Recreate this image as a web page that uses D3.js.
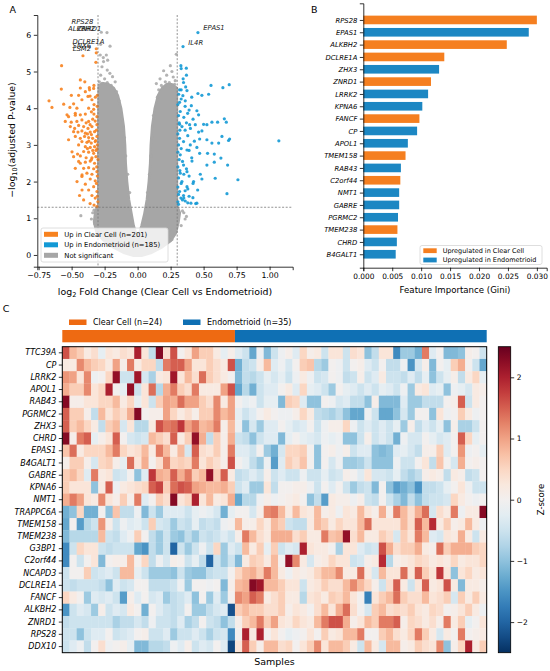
<!DOCTYPE html>
<html>
<head>
<meta charset="utf-8">
<title>Clear Cell vs Endometrioid</title>
<script src="https://cdn.jsdelivr.net/npm/d3@7"></script>
<style>
body { margin: 0; background: #fff; }
svg { font-family: "DejaVu Sans", sans-serif; }
</style>
</head>
<body>
<div id="chart"></div>
<script>
// ---- panel A : volcano ----
var ccPts = [[-0.313,5.62],[-0.414,5.43],[-0.316,5.25],[-0.576,5.16],[-0.313,5.51],
  [-0.434,4.77],[-0.40,4.72],[-0.331,4.62],[-0.366,4.56],[-0.434,4.55],[-0.578,4.52],[-0.364,4.5],[-0.333,4.54],
  [-0.396,4.45],[-0.447,4.35],[-0.376,4.32],[-0.502,4.35],[-0.36,4.33],[-0.422,4.23],[-0.346,4.23],[-0.671,4.2],
  [-0.56,4.11],[-0.485,4.12],[-0.649,4.02],[-0.513,4.02],[-0.46,4.0],[-0.371,4.0],[-0.333,3.97],[-0.306,4.05],
  [-0.535,3.82],[-0.523,3.77],[-0.472,3.86],[-0.434,3.82],[-0.396,3.84],[-0.331,3.84],[-0.308,3.77],[-0.472,3.81],
  [-0.548,3.64],[-0.503,3.62],[-0.46,3.64],[-0.422,3.68],[-0.371,3.64],[-0.321,3.65],
  [-0.51,3.5],[-0.477,3.45],[-0.447,3.53],[-0.409,3.5],[-0.376,3.45],[-0.346,3.5],[-0.308,3.55],
  [-0.485,3.36],[-0.452,3.35],[-0.422,3.38],[-0.396,3.32],[-0.359,3.35],[-0.326,3.36],
  [-0.472,3.23],[-0.434,3.18],[-0.402,3.23],[-0.371,3.2],[-0.341,3.18],[-0.308,3.23],
  [-0.523,3.14],[-0.422,3.09],[-0.384,3.07],[-0.351,3.05],[-0.321,3.09],
  [-0.447,3.0],[-0.396,2.95],[-0.359,2.93],[-0.326,2.95],[-0.308,2.89],
  [-0.497,2.81],[-0.455,2.75],[-0.409,2.82],[-0.371,2.8],[-0.333,2.77],
  [-0.485,2.68],[-0.434,2.7],[-0.346,2.65],[-0.316,2.68],
  [-0.447,2.55],[-0.396,2.53],[-0.359,2.56],[-0.326,2.5],[-0.434,2.5],
  [-0.472,2.36],[-0.409,2.36],[-0.371,2.38],[-0.333,2.35],
  [-0.384,2.23],[-0.346,2.2],[-0.308,2.27],[-0.421,2.18],
  [-0.422,2.14],[-0.359,2.07],[-0.321,2.02],[-0.459,2.0],
  [-0.396,1.93],[-0.333,1.86],[-0.421,1.77],[-0.371,1.77],[-0.308,1.73],
  [-0.44,1.62],[-0.346,1.62],[-0.321,1.55],[-0.409,1.5],[-0.301,1.45],[-0.36,1.4],[-0.33,1.36],[-0.308,1.32],
  [-0.312,3.4],[-0.318,3.12],[-0.305,3.0],[-0.315,2.85],[-0.30,2.6],[-0.31,2.4],[-0.305,2.15],[-0.312,1.95],
  [-0.305,1.6],[-0.32,4.3],[-0.305,4.35],[-0.33,4.1],[-0.35,3.9],[-0.34,3.7],[-0.36,3.55],[-0.38,3.3],
  [-0.39,3.6],[-0.35,3.28],[-0.37,3.1],[-0.38,2.9],[-0.34,2.85],[-0.35,2.6],[-0.39,2.65]];

var enPts = [[0.457,6.06],[0.344,5.68],
  [0.328,5.16],[0.369,5.09],[0.556,4.62],[0.694,4.64],[0.646,4.56],[0.348,4.70],[0.364,4.58],[0.318,4.5],
  [0.374,4.48],[0.457,4.40],[0.487,4.35],[0.538,4.38],[0.311,4.38],[0.343,4.34],[0.361,4.20],[0.407,4.07],
  [0.318,4.16],[0.449,3.93],[0.462,3.82],[0.323,3.91],[0.379,3.86],[0.657,3.71],[0.672,3.62],[0.606,3.62],
  [0.50,3.56],[0.525,3.55],[0.563,3.62],[0.318,3.56],[0.336,3.50],[0.394,3.55],[0.437,3.55],[0.462,3.35],
  [0.487,3.38],[0.639,3.23],[0.697,3.16],[0.689,3.12],[1.07,3.11],[0.563,3.05],[0.614,3.05],[0.47,3.16],
  [0.525,3.14],[0.318,3.18],[0.348,3.09],[0.399,3.0],[0.449,2.93],[0.374,2.86],[0.53,2.77],[0.581,2.75],
  [0.47,2.77],[0.631,2.64],[0.323,2.73],[0.412,2.56],[0.581,2.53],[0.525,2.45],[0.348,2.45],[0.682,2.45],
  [0.475,2.2],[0.323,2.23],[0.374,2.27],[0.487,2.07],[0.588,2.09],[0.76,2.05],[0.424,2.0],[0.336,2.0],
  [0.374,1.86],[0.318,1.73],[0.455,1.77],[0.677,1.67],[0.348,1.62],[0.419,1.56],[0.328,1.55],[0.404,1.41],
  [0.449,1.41],[0.361,1.47],
  [0.305,4.1],[0.31,3.8],[0.315,3.6],[0.32,3.4],[0.305,3.3],[0.31,3.0],[0.33,2.9],[0.305,2.8],[0.315,2.6],
  [0.34,2.55],[0.305,2.4],[0.32,2.3],[0.35,2.2],[0.31,2.1],[0.33,1.95],[0.305,1.85],[0.36,1.75],[0.31,1.65],
  [0.34,1.5],[0.305,1.45],[0.38,1.42],[0.36,3.4],[0.38,3.25],[0.37,3.6],[0.35,3.75],[0.39,3.95],[0.36,4.05],
  [0.33,4.25],[0.41,4.3],[0.42,3.7],[0.40,3.45],[0.43,3.1],[0.39,2.85],[0.41,2.65],[0.37,2.35],[0.39,2.15],
  [0.42,1.95],[0.38,1.8],[0.35,1.55],[0.39,1.6],[0.31,1.38],[0.44,1.4],[0.33,4.5],[0.345,4.8],[0.37,4.9],[0.33,5.08]];

var nsPts = [[-0.275,6.07],[-0.232,6.06],[-0.28,5.74],[-0.209,5.69],[-0.237,5.45],[-0.283,5.45],[-0.227,5.31],
  [-0.258,5.27],[-0.26,5.38],[-0.27,5.13],[-0.23,5.04],[-0.19,4.86],[-0.28,4.9],[-0.17,4.72],[-0.25,4.8],[-0.21,4.95],
  [-0.29,4.72],[-0.27,4.68],[-0.23,4.7],[-0.2,4.62],
  [0.293,5.47],[0.248,5.16],[0.197,5.02],[0.22,4.9],[0.17,4.8],[0.27,4.85],[0.142,4.67],[0.21,4.72],[0.285,4.75],
  [0.26,5.0],[0.18,4.62],[0.24,4.7],[0.28,4.65],[0.25,4.6],
  [-0.43,1.07],[-0.33,1.22],[-0.35,0.98],[-0.325,0.85],[-0.34,1.15],[0.35,1.15],[0.37,1.05],[0.36,0.98],
  [0.34,1.2],[0.33,0.8],[0.243,0.68],[0.25,0.5],[0.26,0.42],
  [-0.12,3.7],[-0.1,3.2],[-0.09,2.7],[-0.075,2.2],[-0.06,1.7],[-0.14,4.2],[0.12,3.8],[0.11,3.2],[0.1,2.7],
  [0.09,2.2],[0.075,1.7],[0.15,4.3],[0.16,4.5],[-0.16,4.45]];

// outline of the dense not-significant cloud
var cloudFc = [0.0,-0.03,-0.045,-0.065,-0.08,-0.09,-0.095,-0.105,-0.125,-0.15,-0.18,-0.22,-0.26,-0.295,
  -0.298,-0.298,-0.298,-0.32,-0.33,-0.31,-0.26,-0.18,-0.1,-0.03,0.03,0.1,0.18,0.25,0.29,0.31,0.32,
  0.298,0.298,0.298,0.298,0.26,0.22,0.185,0.155,0.13,0.11,0.10,0.095,0.085,0.07,0.05,0.03];
var cloudY = [0.45,0.8,1.1,1.5,2.0,2.5,3.0,3.5,4.0,4.35,4.55,4.65,4.68,4.62,
  3.5,2.0,1.35,1.2,0.9,0.6,0.4,0.2,0.05,-0.02,-0.02,0.05,0.2,0.38,0.6,0.9,1.15,
  1.35,2.0,3.5,4.55,4.65,4.65,4.55,4.35,4.0,3.5,3.0,2.5,2.0,1.5,1.1,0.8];

var volcLabels = ["RPS28","ALKBH2","ZNRD1","DCLRE1A","SNX6","LSM2","EPAS1","IL4R"];
var volcLabelFc = [-0.275,-0.28,-0.232,-0.209,-0.313,-0.313,0.457,0.344];
var volcLabelY = [6.07,5.74,6.06,5.69,5.62,5.51,6.06,5.68];

var volcXTicks = [-0.75,-0.5,-0.25,0,0.25,0.5,0.75,1.0];
var volcYTicks = [0,1,2,3,4,5,6];
var fcCut = 0.3, pCut = 1.3;
var volcLegend = ["Up in Clear Cell (n=201)","Up in Endometrioid (n=185)","Not significant"];

// ---- panel B : feature importance ----
var impGenes = ["RPS28","EPAS1","ALKBH2","DCLRE1A","ZHX3","ZNRD1","LRRK2","KPNA6","FANCF","CP",
  "APOL1","TMEM158","RAB43","C2orf44","NMT1","GABRE","PGRMC2","TMEM238","CHRD","B4GALT1"];
var impValues = [0.0300,0.0286,0.0248,0.0140,0.0131,0.0117,0.0112,0.0102,0.0097,0.0093,
  0.0077,0.0073,0.0065,0.0064,0.0062,0.0062,0.0060,0.0059,0.0058,0.0056];
var impGroup = ["CC","EN","CC","CC","EN","CC","EN","EN","CC","EN",
  "EN","CC","EN","CC","EN","EN","EN","CC","EN","EN"];
var impTicks = [0,0.005,0.010,0.015,0.020,0.025,0.030];

// ---- panel C : heatmap ----
var hmGenes = ["TTC39A","CP","LRRK2","APOL1","RAB43","PGRMC2","ZHX3","CHRD","EPAS1","B4GALT1","GABRE",
  "KPNA6","NMT1","TRAPPC6A","TMEM158","TMEM238","G3BP1","C2orf44","NCAPD3","DCLRE1A","FANCF",
  "ALKBH2","ZNRD1","RPS28","DDX10"];
var nClear = 24, nEndo = 35;
var zRows = [
 [1.6,0.8,0.6,0.2,0.4,-0.2,0.3,0.2,0.4,0.3,2.0,0.3,-0.6,2.3,0.4,1.6,0.0,0.3,1.0,0.6,0.6,0.2,-0.2,0.1,
  -0.3,-0.5,-1.3,-0.1,-1.1,
  -0.5,-0.1,0.1,-0.3,0.5,0.1,0.2,-0.5,0.3,0.3,-0.5,0.4,0.3,-1.0,-0.6,0.3,0.3,-1.6,-0.9,-0.9,-1.2,1.3,-0.3,0.0,-1.1,-1.1,-1.0,0.1,0.0,-0.5],
 [0.2,0.2,1.2,0.8,0.6,0.5,0.2,1.0,0.1,1.3,0.2,0.5,0.5,-0.6,1.3,1.5,1.5,1.0,0.3,0.3,0.6,0.4,0.2,1.6,
  -1.2,-0.6,-0.5,0.1,0.8,
  -0.3,-0.1,-0.4,0.0,0.6,0.7,-0.7,-0.9,0.0,-0.1,-0.5,0.0,0.1,-0.3,-0.5,0.0,-0.6,-0.6,-0.1,-1.5,-0.4,0.1,-1.1,0.0,-0.2,0.6,0.9,0.0,-0.5,-1.3],
 [1.1,1.0,0.3,1.2,-0.1,0.0,0.5,2.2,-0.5,-0.5,2.1,-0.4,-0.8,0.2,0.3,2.1,0.3,0.8,0.4,1.4,0.6,0.4,0.2,0.0,
  -1.1,-0.6,-0.7,-0.5,-0.2,
  -0.4,-0.2,-0.5,-0.1,0.2,-0.1,-0.5,-0.4,0.0,-0.1,-0.6,-0.5,0.1,-0.5,-0.3,0.2,-0.5,-0.5,-0.6,-0.3,-0.6,-0.2,-1.0,-0.5,-0.2,0.1,-0.6,0.2,0.5,-0.2],
 [0.9,0.6,0.6,1.2,0.3,0.5,2.0,0.0,-0.2,2.2,-0.5,0.3,1.4,-0.7,0.9,1.3,0.6,0.4,1.3,0.2,0.2,0.2,1.0,1.6,
  -1.3,-0.7,-1.2,-0.5,-0.3,
  -0.3,0.0,0.2,-0.3,0.5,-0.2,-0.3,-0.5,-0.9,0.0,-0.2,-0.3,-0.5,-0.3,-0.5,-0.2,-0.3,-0.5,-0.1,-0.9,0.2,0.3,-0.3,-0.2,-1.0,-0.1,-0.2,-0.4,0.2,0.1],
 [2.3,0.1,0.1,0.3,0.3,0.5,0.5,0.8,0.2,0.5,-0.2,0.3,-0.5,0.6,1.0,0.9,1.4,1.0,1.0,0.6,0.4,1.2,0.2,1.0,
  0.0,-0.2,-0.1,-0.5,-0.2,
  -0.2,-1.1,0.6,0.5,-0.3,-1.0,-1.0,0.0,-0.1,-0.4,-0.3,-0.6,-0.6,-1.0,0.1,-1.1,-1.1,-1.1,-0.3,-0.9,-0.9,-0.6,-0.6,-0.6,0.0,0.1,1.5,-0.5,0.2,0.0],
 [1.5,0.6,0.6,0.1,-0.6,0.8,0.3,0.6,0.4,0.9,2.3,0.0,0.1,0.1,1.0,0.5,0.2,0.4,0.1,0.6,0.6,1.2,0.8,1.0,
  -0.2,-0.5,-0.3,0.0,0.2,
  0.0,-0.1,-0.1,0.1,0.5,0.2,-0.6,-0.7,-0.8,-0.6,-1.0,-1.3,-1.3,-0.1,-0.5,-1.3,-1.3,-1.0,-0.4,-0.9,0.0,0.0,-1.0,0.3,-0.1,0.0,0.6,0.2,-0.1,0.0],
 [1.5,0.6,0.8,0.5,0.2,-0.6,0.6,0.8,-0.4,0.3,-0.7,-0.7,0.2,1.6,1.3,1.4,1.8,1.0,1.3,0.8,0.9,1.3,0.1,0.8,
  -0.1,-1.0,-0.4,-0.9,-0.3,
  -0.3,0.0,-0.2,-0.4,-0.3,0.0,-0.5,-0.1,0.1,0.1,0.5,-0.1,-0.5,-0.3,-0.5,-0.3,-0.5,-0.2,-0.9,0.1,-0.6,-0.3,-0.5,-0.2,-1.0,0.1,-0.8,-0.8,-0.5,0.0],
 [2.3,0.1,1.3,1.5,-0.2,0.1,0.3,1.5,0.0,-0.4,-0.5,-0.4,0.8,0.6,0.4,1.5,0.2,0.6,2.2,0.9,-0.6,0.6,0.1,0.9,
  -0.5,-0.6,-1.0,-0.5,-0.3,
  -0.3,-1.1,-0.2,0.0,-0.2,-0.3,-0.4,-0.1,-0.2,-0.1,-1.0,-1.0,-0.5,0.1,-0.5,-0.3,-0.5,-1.2,-0.1,-0.4,-0.4,0.0,-0.2,-0.4,-0.3,0.0,1.5,0.5,-0.2,0.0],
 [0.7,1.4,0.2,0.5,0.5,0.5,0.8,1.3,0.5,0.3,0.4,0.8,0.2,1.3,0.8,0.2,0.8,-0.4,1.5,0.4,0.3,0.6,0.1,1.3,
  -0.3,-0.3,-0.5,0.0,-0.9,
  -1.2,-0.4,0.5,0.5,0.6,0.0,-1.0,0.0,0.1,-0.1,0.1,-0.5,-0.3,-0.3,-1.0,-1.1,-1.0,-0.3,-0.2,-0.4,-0.6,0.1,0.1,0.6,-0.3,0.0,1.1,-0.1,0.0,-0.2],
 [0.1,0.6,0.6,0.1,-0.4,0.5,0.6,0.1,-0.2,1.4,0.3,0.9,0.0,0.4,1.2,0.5,0.6,0.5,1.3,0.3,0.6,0.4,0.1,1.6,
  0.0,-0.2,-0.6,-0.9,-0.1,
  -1.4,-0.3,0.6,0.4,0.7,0.0,-1.0,0.0,-0.4,-0.1,-0.9,-0.9,-0.8,-0.5,-1.0,-1.0,-1.0,-0.1,-0.5,-0.5,0.0,0.3,-0.6,0.7,0.0,-0.4,0.9,0.0,0.1,0.0],
 [0.6,0.8,0.5,-0.3,1.3,0.2,0.3,-0.5,-0.4,0.0,-1.0,-0.3,1.8,0.9,0.8,1.5,0.9,1.3,0.6,0.8,2.2,0.6,1.5,0.2,
  -0.6,-0.5,-0.3,-0.5,0.1,
  -0.5,-0.3,-0.5,-0.5,-0.1,-0.5,-0.5,-0.2,-0.5,-0.4,0.1,0.0,-0.3,0.3,-0.4,-0.4,-0.5,-0.2,-0.6,-0.8,-0.6,0.1,0.2,0.1,-0.6,0.2,0.1,-0.6,-0.5,0.0],
 [0.6,0.3,0.3,0.3,-1.0,0.2,1.5,-0.1,0.2,0.3,0.4,0.5,1.5,1.7,0.6,1.4,1.6,1.5,1.0,0.9,0.8,0.8,0.9,0.6,
  -0.5,-0.3,-0.9,-0.9,0.3,
  -0.6,0.0,0.0,0.1,0.1,-0.1,-0.5,0.0,-0.3,0.0,-0.5,-0.9,-0.6,-0.5,-1.1,0.0,-1.0,-1.4,-1.2,-1.0,-1.5,-0.6,-0.6,-0.5,-0.2,0.0,0.3,-0.1,-0.5,-0.5],
 [0.9,1.3,1.0,0.3,0.2,1.2,0.3,0.1,0.6,0.1,1.3,-0.3,0.0,0.6,0.4,2.3,0.3,0.5,2.0,0.3,0.8,0.2,0.3,0.9,
  -1.3,-0.7,-0.7,-0.1,0.1,
  -0.1,0.0,0.1,0.2,0.0,-1.0,-0.6,-1.4,0.2,0.1,0.1,-0.1,0.1,-0.5,-0.6,0.0,-0.5,-0.8,-1.1,-0.6,-1.0,-0.6,-0.5,-0.5,-0.4,0.5,0.2,0.0,-0.1,0.0],
 [-1.2,-1.0,0.5,-1.2,-1.2,0.0,-1.0,0.7,-0.6,-0.6,-0.1,-1.1,-0.5,-0.9,-0.3,-0.3,-0.3,-0.5,-0.2,-0.1,-0.2,-0.4,-1.2,-0.2,
  0.0,0.0,-0.4,0.1,1.2,
  1.3,0.8,0.2,0.8,0.3,0.2,0.8,0.1,0.2,-0.1,0.3,0.2,0.8,0.3,0.1,0.9,0.1,1.3,0.8,0.4,0.9,1.4,-0.4,0.4,0.2,1.3,-0.1,0.2,0.2,2.3],
 [-1.3,0.0,-1.4,-0.7,-0.5,1.1,0.1,-0.5,-0.1,-0.3,-0.2,-0.5,0.6,-0.4,-0.5,-0.9,-0.5,-0.6,-0.2,-0.6,-0.5,-0.6,-0.1,0.0,
  0.8,0.1,0.1,0.5,0.2,
  0.8,0.6,-0.5,-0.6,-0.6,0.2,0.8,0.6,0.2,0.5,0.3,0.3,0.8,1.4,0.3,0.3,0.3,0.3,0.8,0.4,1.5,0.8,1.9,0.2,0.6,0.1,0.2,0.8,0.2,-0.1],
 [-1.1,-0.7,-0.7,-0.7,-0.7,0.8,-0.5,-0.6,-0.3,-0.1,0.6,0.0,-0.6,-0.9,-0.5,-0.9,-1.0,-0.6,-0.9,-0.5,-0.6,-0.5,-0.3,-0.5,
  0.1,1.3,0.8,0.4,0.2,
  0.9,0.9,0.9,0.4,0.6,0.2,0.2,1.3,0.7,0.8,2.2,0.4,0.8,0.2,0.2,0.6,0.4,-0.4,0.6,0.3,1.3,0.8,-0.3,-0.4,0.3,0.2,0.9,0.2,-0.5,0.2],
 [-1.6,-0.5,0.5,0.3,0.3,-0.5,-0.6,-0.5,-0.5,-0.5,-1.3,-1.5,-0.6,-0.9,-0.5,-2.0,-0.5,-0.9,-0.5,-0.1,-0.5,0.5,-0.9,-0.3,
  -0.5,0.8,0.2,0.6,-0.2,
  0.6,-0.5,-0.3,-0.4,2.0,0.3,0.2,0.2,0.0,-0.8,0.3,0.3,-0.3,-0.5,-0.4,1.6,0.9,0.4,0.6,0.6,0.9,0.2,0.1,1.4,0.6,0.9,0.9,0.9,0.6,0.5],
 [-1.6,0.0,-0.5,0.0,0.3,-1.1,0.0,0.1,0.1,0.8,0.0,0.5,-0.6,-0.1,-0.4,0.1,0.0,-0.5,-0.2,-0.6,-2.0,-0.5,-0.9,-0.5,
  -1.1,0.2,0.6,0.5,0.2,
  0.8,0.0,2.2,1.2,0.2,-0.4,0.1,0.2,0.5,0.3,0.3,-0.5,-0.4,0.1,0.2,1.9,-0.7,0.1,0.2,0.3,0.5,0.4,0.2,0.3,0.2,0.5,0.2,0.3,0.3,0.5],
 [-0.5,0.0,0.0,0.6,-0.5,-0.4,-0.3,-0.5,0.8,0.8,-0.2,-0.5,-0.9,-0.9,-0.9,-1.0,-0.5,-0.9,-1.0,-1.0,-0.6,-0.5,-0.5,0.0,
  0.5,0.8,0.9,0.6,1.3,
  0.8,0.2,-0.1,0.2,0.1,0.2,0.5,0.8,0.8,1.2,0.2,0.2,1.4,0.2,-0.4,0.8,0.3,0.3,1.4,0.3,1.5,0.6,0.3,1.8,0.3,-1.0,0.3,0.5,0.2,0.3],
 [-0.5,-0.6,-0.5,-0.5,-0.5,-0.6,-1.0,-0.3,-0.5,-0.4,0.0,0.0,-0.6,-0.6,-0.6,-0.5,-0.1,-0.9,0.0,0.0,-0.1,0.0,-1.1,0.1,
  0.8,0.9,2.3,2.1,0.8,
  0.8,0.6,0.3,0.3,-0.5,0.2,0.3,0.6,0.4,0.4,0.8,1.2,0.8,0.5,0.1,-0.5,0.4,1.5,0.2,-0.5,0.3,1.5,0.2,0.3,1.6,0.2,-1.1,0.2,0.2,0.1],
 [0.5,0.2,0.0,-0.9,-0.3,-0.4,-0.3,-0.5,-1.4,0.1,-0.3,0.0,-0.4,-0.3,-0.9,-0.6,-0.5,-0.3,-1.0,0.0,-0.9,-0.3,-0.9,0.0,
  1.2,1.0,1.5,1.3,0.2,
  0.4,0.6,0.2,0.2,-0.7,0.3,0.4,0.2,0.6,0.5,0.8,0.3,0.0,-1.7,0.3,0.6,0.8,1.4,0.6,0.4,0.4,0.8,0.3,0.4,0.6,-0.4,0.6,0.2,0.6,0.2],
 [-1.5,-0.5,-0.3,-0.4,-0.9,0.1,-0.5,-0.3,-0.4,0.2,0.0,-1.2,0.0,-0.3,-0.5,-0.6,-0.5,0.0,-0.9,-0.9,-0.6,-0.4,-0.3,-2.2,
  0.6,0.8,0.6,0.6,0.4,
  0.4,0.6,0.1,0.3,0.2,0.0,0.4,0.8,0.3,0.9,1.4,0.4,0.0,-0.4,0.6,0.8,0.4,0.5,0.4,0.6,0.3,0.2,0.5,0.4,0.0,0.1,0.3,0.6,0.2,-0.1],
 [-0.6,-0.5,-0.5,-0.5,-0.5,-0.5,-0.5,-0.8,-0.6,-0.6,-0.4,-0.6,-0.1,-0.5,-0.5,-0.6,-0.3,-0.8,-0.6,0.0,-0.5,-0.6,-1.0,-0.6,
  0.1,0.6,0.8,1.3,0.6,
  1.0,0.3,0.2,0.5,0.3,0.2,0.8,1.3,1.6,1.6,0.9,0.1,0.3,0.8,0.6,1.3,1.3,1.5,0.1,0.5,0.4,0.2,0.4,0.1,1.3,0.2,0.6,-0.2,0.0,0.3],
 [-0.5,-0.5,-1.0,-0.5,-0.3,-0.3,0.0,-0.5,-0.4,-0.3,0.0,0.1,-0.5,-0.5,-0.3,-0.9,-0.5,-0.5,-0.3,-0.5,-0.8,-0.5,-0.4,-1.6,
  0.0,2.0,0.2,2.0,0.0,
  0.3,0.0,-0.2,-0.1,0.0,0.3,0.0,0.6,0.2,0.3,0.8,0.8,1.3,0.0,0.0,0.6,0.8,0.4,0.2,0.5,1.3,0.6,0.2,-0.4,0.2,0.0,1.3,0.0,0.1,0.2],
 [-0.5,-0.3,-0.1,-0.6,0.0,0.4,-0.1,0.0,0.1,-0.2,-1.1,-1.1,-0.7,-0.7,-0.6,-0.1,-0.3,0.1,-0.5,-0.3,-0.4,0.0,-0.3,-2.3,
  0.3,1.5,0.6,0.1,0.8,
  0.8,0.4,0.5,0.0,0.3,0.6,1.2,0.3,0.8,0.8,0.6,0.2,-0.5,0.8,0.2,-0.4,0.8,0.8,0.1,0.2,0.6,0.4,0.3,1.2,-1.0,0.1,0.5,2.0,0.2,0.6]
];
var zTicks = [-2,-1,0,1,2];

// colours
var cOrange = "#f7821f", cBlue = "#1399d5", cGrey = "#a6a6a6";
var barOrange = "#f57f20", barBlue = "#1c87c3";
var annOrange = "#ee6a12", annBlue = "#0f70b4";
var FONT = "DejaVu Sans";

var svg = d3.select('#chart').append('svg')
    .attr('width', 550)
    .attr('height', 671);

function styleAxis(g, size) {
  g.attr('font-family', FONT).attr('font-size', size);
  g.selectAll('path, line').attr('stroke', '#000').attr('stroke-width', 0.8);
  g.selectAll('text').attr('fill', '#000');
}

// ================= A =================
var vx = d3.scaleLinear().domain([-0.76, 1.175]).range([37.3, 292.7]);
var vy = d3.scaleLinear().domain([-0.32, 6.54]).range([266.7, 15]);
var gA = svg.append('g');

gA.append('path')
    .datum(d3.zip(cloudFc, cloudY))
    .attr('d', d3.line().x(function(d){ return vx(d[0]); }).y(function(d){ return vy(d[1]); }).curve(d3.curveLinearClosed))
    .attr('fill', cGrey).attr('stroke', cGrey).attr('stroke-width', 2.5).attr('stroke-linejoin', 'round');

gA.selectAll('.ns').data(nsPts).enter().append('circle')
    .attr('cx', function(d){ return vx(d[0]); }).attr('cy', function(d){ return vy(d[1]); })
    .attr('r', 1.6).attr('fill', cGrey).attr('fill-opacity', 0.85);
gA.selectAll('.cc').data(ccPts).enter().append('circle')
    .attr('cx', function(d){ return vx(d[0]); }).attr('cy', function(d){ return vy(d[1]); })
    .attr('r', 1.6).attr('fill', cOrange).attr('fill-opacity', 0.9);
gA.selectAll('.en').data(enPts).enter().append('circle')
    .attr('cx', function(d){ return vx(d[0]); }).attr('cy', function(d){ return vy(d[1]); })
    .attr('r', 1.6).attr('fill', cBlue).attr('fill-opacity', 0.9);

// threshold lines
[-fcCut, fcCut].forEach(function(v) {
  gA.append('line').attr('x1', vx(v)).attr('x2', vx(v)).attr('y1', vy.range()[1]).attr('y2', vy.range()[0])
    .attr('stroke', '#777').attr('stroke-width', 0.8).attr('stroke-dasharray', '2,1.6');
});
gA.append('line').attr('x1', vx.range()[0]).attr('x2', vx.range()[1]).attr('y1', vy(pCut)).attr('y2', vy(pCut))
    .attr('stroke', '#777').attr('stroke-width', 0.8).attr('stroke-dasharray', '2,1.6');

// gene labels (offsets in px)
var labDx = [-8,-5.6,-5.7,-5.7,-5.3,-5.3,5.4,5.3];
var labDy = [-10.5,-15.3,-3.6,-4.2,-3.2,-3.7,-4.6,-4];
volcLabels.forEach(function(g, i) {
  gA.append('text')
    .attr('x', vx(volcLabelFc[i]) + labDx[i]).attr('y', vy(volcLabelY[i]) + labDy[i])
    .attr('dy', '0.35em').attr('text-anchor', volcLabelFc[i] < 0 ? 'end' : 'start')
    .attr('font-size', 6.8).attr('font-style', 'italic').attr('fill', '#222').text(g);
});

var axA = gA.append('g').attr('transform', 'translate(0,' + vy.range()[0] + ')')
    .call(d3.axisBottom(vx).tickValues(volcXTicks).tickFormat(d3.format('.2f')).tickSizeOuter(0).tickSize(3.5).tickPadding(2.5));
styleAxis(axA, 7.8);
var ayA = gA.append('g').attr('transform', 'translate(' + vx.range()[0] + ',0)')
    .call(d3.axisLeft(vy).tickValues(volcYTicks).tickFormat(d3.format('d')).tickSizeOuter(0).tickSize(3.5).tickPadding(2.5));
styleAxis(ayA, 7.8);

var xl = gA.append('text').attr('x', (vx.range()[0] + vx.range()[1]) / 2).attr('y', 294.5)
    .attr('text-anchor', 'middle').attr('font-size', 9.4);
xl.append('tspan').text('log');
xl.append('tspan').attr('font-size', 6.6).attr('dy', 2.2).text('2');
xl.append('tspan').attr('dy', -2.2).text(' Fold Change (Clear Cell vs Endometrioid)');

var yl = gA.append('text').attr('transform', 'translate(15,140) rotate(-90)')
    .attr('text-anchor', 'middle').attr('font-size', 9.4);
yl.append('tspan').text('\u2212log');
yl.append('tspan').attr('font-size', 6.6).attr('dy', 2.2).text('10');
yl.append('tspan').attr('dy', -2.2).text('(adjusted P-value)');

// legend A
var legA = gA.append('g');
legA.append('rect').attr('x', 41).attr('y', 228).attr('width', 127).attr('height', 34).attr('rx', 2)
    .attr('fill', '#fff').attr('fill-opacity', 0.8).attr('stroke', '#d6d6d6').attr('stroke-width', 0.8);
[cOrange, cBlue, cGrey].forEach(function(c, i) {
  var yy = 234.3 + i * 10.5;
  legA.append('rect').attr('x', 44).attr('y', yy - 2.5).attr('width', 14).attr('height', 5).attr('fill', c);
  legA.append('text').attr('x', 64.3).attr('y', yy).attr('dy', '0.35em').attr('font-size', 6.8).text(volcLegend[i]);
});

svg.append('text').attr('x', 12.7).attr('y', 12.5).attr('text-anchor', 'middle').attr('font-size', 9.5).text('A');

// ================= B =================
var bx = d3.scaleLinear().domain([0, 0.0317]).range([363.3, 546.7]);
var by = d3.scaleLinear().domain([-1.35, 20.09]).range([3.3, 267.7]);
var step = by(1) - by(0);
var gB = svg.append('g');

gB.selectAll('rect.bar').data(impValues).enter().append('rect')
    .attr('class', 'bar')
    .attr('x', bx(0))
    .attr('y', function(d, i){ return by(i) - step * 0.35; })
    .attr('width', function(d){ return bx(d) - bx(0); })
    .attr('height', step * 0.7)
    .attr('fill', function(d, i){ return impGroup[i] === 'CC' ? barOrange : barBlue; });

var axB = gB.append('g').attr('transform', 'translate(0,' + by.range()[1] + ')')
    .call(d3.axisBottom(bx).tickValues(impTicks).tickFormat(d3.format('.3f')).tickSizeOuter(0).tickSize(3.5).tickPadding(2.5));
styleAxis(axB, 7.4);
var ayB = gB.append('g').attr('transform', 'translate(' + bx.range()[0] + ',0)')
    .call(d3.axisLeft(by).tickValues(d3.range(impGenes.length)).tickFormat(function(i){ return impGenes[i]; })
      .tickSizeOuter(0).tickSize(3.5).tickPadding(2.5));
styleAxis(ayB, 6.8);
ayB.selectAll('text').attr('font-style', 'italic');

gB.append('text').attr('x', (bx.range()[0] + bx.range()[1]) / 2).attr('y', 293)
    .attr('text-anchor', 'middle').attr('font-size', 8.6).text('Feature Importance (Gini)');

var legB = gB.append('g');
legB.append('rect').attr('x', 420).attr('y', 245.5).attr('width', 122).attr('height', 19).attr('rx', 2)
    .attr('fill', '#fff').attr('fill-opacity', 0.8).attr('stroke', '#d6d6d6').attr('stroke-width', 0.8);
[['Upregulated in Clear Cell', barOrange], ['Upregulated in Endometrioid', barBlue]].forEach(function(e, i) {
  var yy = 250.7 + i * 9.3;
  legB.append('rect').attr('x', 423.3).attr('y', yy - 2.4).attr('width', 13.4).attr('height', 4.8).attr('fill', e[1]);
  legB.append('text').attr('x', 442.7).attr('y', yy).attr('dy', '0.35em').attr('font-size', 6.5).text(e[0]);
});

svg.append('text').attr('x', 314.3).attr('y', 12.5).attr('text-anchor', 'middle').attr('font-size', 9.5).text('B');

// ================= C =================
var nSamples = nClear + nEndo;
var hx = d3.scaleBand().domain(d3.range(nSamples)).range([62.3, 486.7]);
var hy = d3.scaleBand().domain(hmGenes).range([346.7, 652.7]);
var zc = d3.scaleSequential(function(t){ return d3.interpolateRdBu(1 - t); }).domain([-2.5, 2.5]);
var gC = svg.append('g');

var rows = gC.selectAll('g.row').data(zRows).enter().append('g')
    .attr('class', 'row')
    .attr('transform', function(d, i){ return 'translate(0,' + hy(hmGenes[i]) + ')'; });
rows.selectAll('rect').data(function(d){ return d; }).enter().append('rect')
    .attr('x', function(d, j){ return hx(j); })
    .attr('width', hx.bandwidth() + 0.3)
    .attr('height', hy.bandwidth() + 0.3)
    .attr('fill', function(d){ return zc(d); });

gC.append('rect').attr('x', 62.3).attr('y', 346.7).attr('width', 424.4).attr('height', 306)
    .attr('fill', 'none').attr('stroke', '#000').attr('stroke-width', 1);

var ayC = gC.append('g').attr('transform', 'translate(62.3,0)')
    .call(d3.axisLeft(hy).tickSizeOuter(0).tickSize(3.5).tickPadding(2.5));
styleAxis(ayC, 8);
ayC.select('.domain').remove();
ayC.selectAll('text').attr('font-style', 'italic');

// group annotation bar
gC.append('rect').attr('x', hx(0)).attr('y', 330).attr('width', hx(nClear) - hx(0)).attr('height', 12.3).attr('fill', annOrange);
gC.append('rect').attr('x', hx(nClear)).attr('y', 330).attr('width', hx.range()[1] - hx(nClear)).attr('height', 12.3).attr('fill', annBlue);

[['Clear Cell (n=' + nClear + ')', annOrange, 69, 93], ['Endometrioid (n=' + nEndo + ')', annBlue, 183, 207]].forEach(function(e) {
  gC.append('rect').attr('x', e[2]).attr('y', 319.5).attr('width', 17.5).attr('height', 5.5).attr('fill', e[1]);
  gC.append('text').attr('x', e[3]).attr('y', 322.3).attr('dy', '0.35em').attr('font-size', 8).text(e[0]);
});

gC.append('text').attr('x', (hx.range()[0] + hx.range()[1]) / 2).attr('y', 665)
    .attr('text-anchor', 'middle').attr('font-size', 9.5).text('Samples');

// colour bar
var cbY = d3.scaleLinear().domain([-2.5, 2.5]).range([652.7, 346.7]);
var grad = svg.append('defs').append('linearGradient').attr('id', 'zgrad')
    .attr('x1', 0).attr('y1', 1).attr('x2', 0).attr('y2', 0);
d3.range(0, 1.0001, 0.05).forEach(function(t) {
  grad.append('stop').attr('offset', t).attr('stop-color', zc(-2.5 + 5 * t));
});
gC.append('rect').attr('x', 498.3).attr('y', 346.7).attr('width', 12.4).attr('height', 306)
    .attr('fill', 'url(#zgrad)').attr('stroke', '#000').attr('stroke-width', 0.8);
var cbAx = gC.append('g').attr('transform', 'translate(510.7,0)')
    .call(d3.axisRight(cbY).tickValues(zTicks).tickFormat(d3.format('d')).tickSizeOuter(0).tickSize(3.5).tickPadding(2.5));
styleAxis(cbAx, 7.5);
cbAx.select('.domain').remove();
gC.append('text').attr('transform', 'translate(541,499.5) rotate(-90)').attr('text-anchor', 'middle')
    .attr('dy', '0.35em').attr('font-size', 8.5).text('Z-score');

svg.append('text').attr('x', 6).attr('y', 311.5).attr('text-anchor', 'middle').attr('font-size', 9.5).text('C');
</script>
</body>
</html>
